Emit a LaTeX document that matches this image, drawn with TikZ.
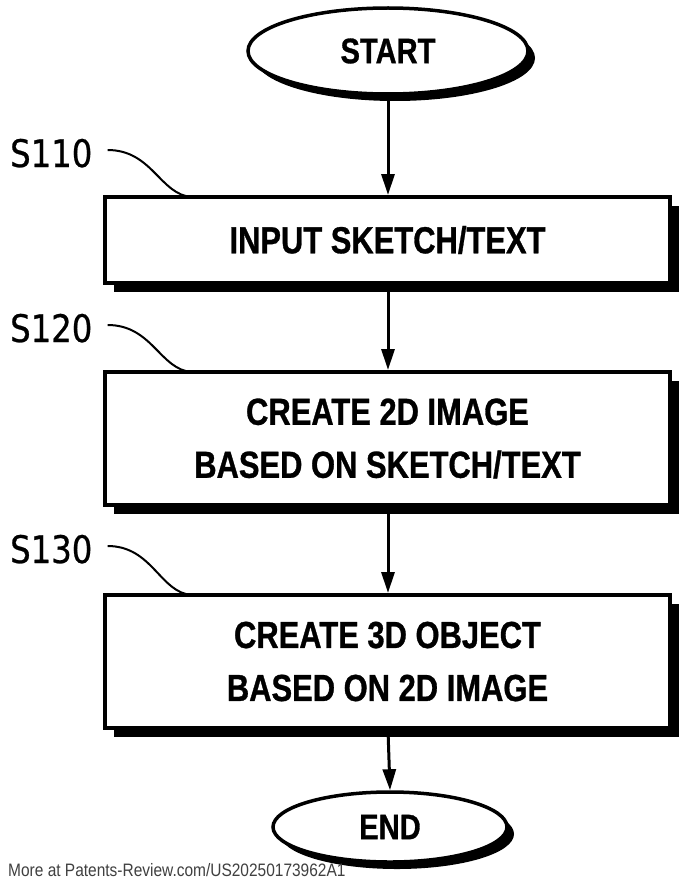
\documentclass[tikz,border=0pt]{standalone}
\usepackage{fontspec}
\usetikzlibrary{arrows.meta,shapes.geometric,shadows}
\newfontfamily\boxfont{Liberation Sans}[FakeStretch=0.82, BoldFeatures={FakeBold=0.8}]
\newfontfamily\labfont{DejaVu Sans}[FakeStretch=0.85, FakeBold=0.6]
\newfontfamily\footfont{Liberation Sans}[FakeStretch=0.86]
\tikzset{
  stepbox/.style={draw=black, line width=4pt, fill=white, rectangle,
    minimum width=565pt, minimum height=86pt, inner sep=0pt, align=center,
    font=\boxfont\bfseries\fontsize{37.7}{53}\selectfont,
    general shadow={shadow xshift=9pt, shadow yshift=-9pt, fill=black, opacity=1}},
  term/.style={draw=black, line width=3.5pt, fill=white, ellipse, inner sep=0pt,
    font=\boxfont\bfseries\fontsize{35.5}{40}\selectfont,
    general shadow={shadow xshift=7pt, shadow yshift=-7pt, fill=black, opacity=1}},
  arr/.style={line width=3pt, -{Triangle[length=21pt,width=13pt]}},
  lab/.style={anchor=base west, inner sep=0pt, font=\labfont\fontsize{38}{40}\selectfont},
  leader/.style={line width=2pt},
}
\begin{document}
\begin{tikzpicture}[x=1pt,y=-1pt]
\useasboundingbox (0,0) rectangle (689,888);
\fill[white] (0,0) rectangle (689,888);
\node[term, minimum width=280pt, minimum height=86pt] (start) at (388,51) {START};
\node[stepbox] (b1) at (387.5,240) {INPUT SKETCH/TEXT};
\node[stepbox, minimum height=133pt] (b2) at (387.5,438.5) {CREATE 2D IMAGE\\BASED ON SKETCH/TEXT};
\node[stepbox, minimum height=133pt] (b3) at (387.5,661.5) {CREATE 3D OBJECT\\BASED ON 2D IMAGE};
\node[term, minimum width=234pt, minimum height=70pt] (end) at (390,827) {END};
\draw[arr] (start.south) -- (start.south |- b1.north);
\draw[arr] (b1.south -| start.south) -- (start.south |- b2.north);
\draw[arr] (b2.south -| start.south) -- (start.south |- b3.north);
\draw[arr] (b3.south -| start.south) -- (end.north);
\node[lab] (l1) at (10,167) {S110};
\node[lab] (l2) at (10,342) {S120};
\node[lab] (l3) at (10,563) {S130};
\coordinate (e1) at (192,197);
\coordinate (e2) at (192,372);
\coordinate (e3) at (192,595);
\draw[leader] ([xshift=15pt,yshift=17pt]l1.base east) .. controls +(45,0) and +(-32,-2) .. (e1);
\draw[leader] ([xshift=15pt,yshift=17pt]l2.base east) .. controls +(45,0) and +(-32,-2) .. (e2);
\draw[leader] ([xshift=15pt,yshift=17pt]l3.base east) .. controls +(45,0) and +(-32,-2) .. (e3);
\node[anchor=base west, inner sep=0pt, text=black!75, font=\footfont\fontsize{18}{20}\selectfont] (foot) at (8,876) {More at Patents-Review.com/US20250173962A1};
\end{tikzpicture}
\end{document}
